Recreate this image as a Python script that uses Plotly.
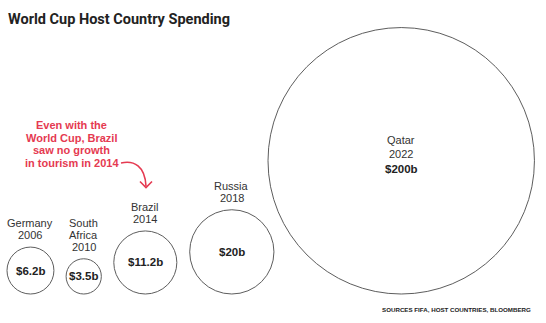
import math
import plotly.graph_objects as go

# ---- data ----
countries = ["Germany", "South Africa", "Brazil", "Russia", "Qatar"]
name_lines = [["Germany"], ["South", "Africa"], ["Brazil"], ["Russia"], ["Qatar"]]
years = ["2006", "2010", "2014", "2018", "2022"]
spending = [6.2, 3.5, 11.2, 20, 200]  # US$ billions
value_labels = ["$6.2b", "$3.5b", "$11.2b", "$20b", "$200b"]
note_lines = ["Even with the", "World Cup, Brazil", "saw no growth", "in tourism in 2014"]
title_text = "World Cup Host Country Spending"
source_text = "SOURCES FIFA, HOST COUNTRIES, BLOOMBERG"

# ---- layout constants (pixel space) ----
W, H = 546, 323
K = 9.42          # px of radius per sqrt($b)  -> circle area proportional to spending
BASE = 294        # common bottom line of circles
LEFT = 7
GAPS = [12.5, 14, 13.5, 17]
FONT = "Liberation Sans, Arial, sans-serif"
TITLE_FONT = "Roboto, Liberation Sans, Arial, sans-serif"
RED = "#e53a51"
INK = "#222222"

radii = [K * math.sqrt(v) for v in spending]
cx = [LEFT + radii[0]]
for i in range(1, len(radii)):
    r1, r2 = radii[i - 1], radii[i]
    d = r1 + r2 + GAPS[i - 1]
    cx.append(cx[-1] + math.sqrt(d * d - (r1 - r2) ** 2))
cy = [BASE - r for r in radii]

fig = go.Figure()
fig.add_trace(go.Scatter(
    x=cx, y=cy, mode="markers",
    marker=dict(size=[2 * r for r in radii], sizemode="diameter",
                color="rgba(255,255,255,0)", line=dict(color="#1a1a1a", width=1)),
    hoverinfo="skip", cliponaxis=False,
))

ann = []
def txt(x, y, s, size=11, bold=False, color=INK, xanchor="center", family=FONT):
    ann.append(dict(x=x, y=y, xref="x", yref="y", text=f"<b>{s}</b>" if bold else s,
                    showarrow=False, xanchor=xanchor, yanchor="middle",
                    font=dict(family=family, size=size, color=color)))

for i in range(len(spending)):
    lines = name_lines[i] + [years[i]]
    if radii[i] > 100:
        # label inside the big circle
        ys = [cy[i] - 20.5, cy[i] - 7]
        for s, y in zip(lines, ys):
            txt(cx[i], y, s, color="#333333")
        txt(cx[i], cy[i] + 8, value_labels[i], size=11.5, bold=True)
    else:
        top = cy[i] - radii[i]
        n = len(lines)
        for j, s in enumerate(lines):
            y = top - 12 - (n - 1 - j) * 12
            txt(cx[i], y, s, color="#333333")
        txt(cx[i], cy[i], value_labels[i], size=11.5, bold=True)

# annotation note
for j, s in enumerate(note_lines):
    txt(71.5, 125 + j * 12.6, s, bold=True, color=RED)

# title and source
txt(6, 19, title_text, size=14.5, bold=True, xanchor="left", family=TITLE_FONT)
ann.append(dict(x=533, y=309, xref="x", yref="y", text=f"<b>{source_text}</b>",
                showarrow=False, xanchor="right", yanchor="middle",
                font=dict(family=FONT, size=6.2, color=INK)))

shapes = [
    dict(type="path", xref="x", yref="y", path="M 121 163 C 134 160 145 166 146 186",
         line=dict(color=RED, width=1.6)),
    dict(type="path", xref="x", yref="y", path="M 140 181.5 L 146 187.5 L 152 181.5",
         line=dict(color=RED, width=1.6)),
]

fig.update_layout(
    width=W, height=H, margin=dict(l=0, r=0, t=0, b=0),
    paper_bgcolor="white", plot_bgcolor="white", showlegend=False,
    xaxis=dict(range=[0, W], visible=False, fixedrange=True),
    yaxis=dict(range=[H, 0], visible=False, fixedrange=True),
    annotations=ann, shapes=shapes,
)
fig.write_html("out.html")
